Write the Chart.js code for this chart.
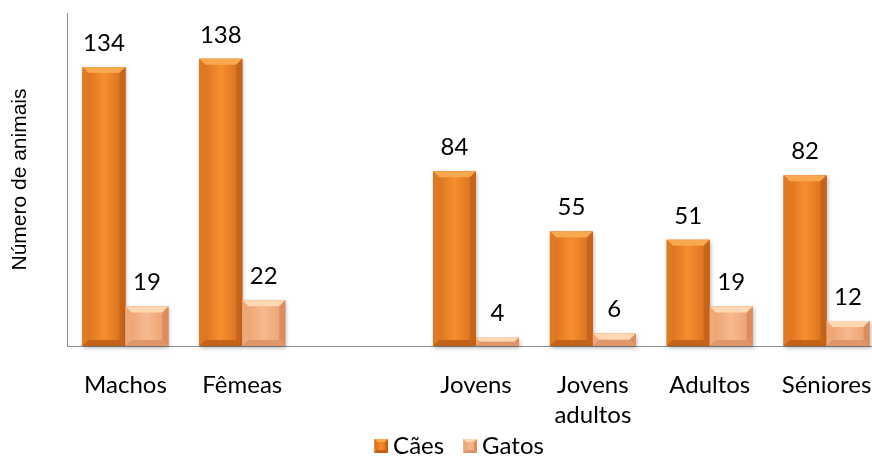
<!DOCTYPE html>
<html lang="pt">
<head>
<meta charset="utf-8">
<title>Número de animais por sexo e idade</title>
<script src="https://cdn.jsdelivr.net/npm/chart.js@4/dist/chart.umd.min.js"></script>
<style>
  html, body { margin: 0; padding: 0; background: #fff; overflow: hidden; width: 872px; height: 457px; }
  canvas { display: block; }
</style>
</head>
<body>
<canvas id="grafico" width="919" height="457"></canvas>
<script>
// Categorias (a posição vazia separa o sexo das faixas etárias)
const categorias = ['Machos', 'Fêmeas', '', 'Jovens', ['Jovens', 'adultos'], 'Adultos', 'Séniores'];
const caes  = [134, 138, null, 84, 55, 51, 82];
const gatos = [19, 22, null, 4, 6, 19, 12];
const nomesSeries = ['Cães', 'Gatos'];

// Paleta de cada série: face, arestas e chanfros
const paletas = [
  { base: '#EE8226', centro: '#F78E2E', borda: '#D26C1C', topo: '#F9A850', baixo: '#C4621A', esq: '#E07A22', dir: '#C6641A' },
  { base: '#F2AA7C', centro: '#F7B98F', borda: '#EA9E6C', topo: '#FDD8B2', baixo: '#DE966A', esq: '#F0A879', dir: '#DA8E60' }
];

const fonteRotulo = { family: 'Lato, "Open Sans", sans-serif', size: 24 };

// Pinta um retângulo chanfrado com a paleta indicada
function pintarChanfrado(ctx, l, t, w, h, p, k) {
  const r = l + w, b = t + h;
  const g = ctx.createLinearGradient(l, 0, r, 0);
  g.addColorStop(0, p.borda);
  g.addColorStop(0.5, p.centro);
  g.addColorStop(1, p.borda);
  ctx.fillStyle = g;
  ctx.fillRect(l, t, w, h);
  ctx.shadowColor = 'transparent';
  const poly = (pts, cor) => {
    ctx.beginPath();
    ctx.moveTo(pts[0][0], pts[0][1]);
    for (let j = 1; j < pts.length; j++) ctx.lineTo(pts[j][0], pts[j][1]);
    ctx.closePath();
    ctx.fillStyle = cor;
    ctx.fill();
  };
  poly([[l, t], [r, t], [r - k, t + k], [l + k, t + k]], p.topo);
  poly([[l, t], [l + k, t + k], [l + k, b - k], [l, b]], p.esq);
  poly([[r, t], [r - k, t + k], [r - k, b - k], [r, b]], p.dir);
  poly([[l, b], [l + k, b - k], [r - k, b - k], [r, b]], p.baixo);
}

// Ícones da legenda: quadrado chanfrado encostado à direita, junto ao texto
const icones = paletas.map(p => {
  const c = document.createElement('canvas');
  c.width = 34; c.height = 14;
  pintarChanfrado(c.getContext('2d'), 20, 0, 14, 14, p, 3);
  return c;
});

// Desenha o efeito chanfrado sobre cada barra, a partir da geometria da própria barra
const chanfro = {
  id: 'chanfro',
  afterDatasetsDraw(chart) {
    const ctx = chart.ctx;
    chart.data.datasets.forEach((ds, di) => {
      const meta = chart.getDatasetMeta(di);
      meta.data.forEach((bar, i) => {
        if (ds.data[i] == null) return;
        const { x, y, base, width } = bar.getProps(['x', 'y', 'base', 'width'], true);
        const h = base - y;
        const k = Math.min(6, h / 2, width / 2);
        ctx.save();
        ctx.shadowColor = 'rgba(0,0,0,0.28)';
        ctx.shadowBlur = 4;
        ctx.shadowOffsetX = 1;
        ctx.shadowOffsetY = 2;
        pintarChanfrado(ctx, x - width / 2, y, width, h, paletas[di], k);
        ctx.restore();
      });
    });
  }
};

// Rótulos de valor por cima de cada barra
const rotulosValor = {
  id: 'rotulosValor',
  afterDatasetsDraw(chart) {
    const ctx = chart.ctx;
    ctx.save();
    ctx.font = `${fonteRotulo.size}px ${fonteRotulo.family}`;
    ctx.fillStyle = '#000';
    ctx.textAlign = 'center';
    ctx.textBaseline = 'middle';
    chart.data.datasets.forEach((ds, di) => {
      chart.getDatasetMeta(di).data.forEach((bar, i) => {
        const v = ds.data[i];
        if (v == null) return;
        ctx.fillText(String(v), bar.x, bar.y - 24);
      });
    });
    ctx.restore();
  }
};

new Chart(document.getElementById('grafico'), {
  type: 'bar',
  data: {
    labels: categorias,
    datasets: [
      { label: nomesSeries[0], data: caes,  backgroundColor: paletas[0].base, borderWidth: 0 },
      { label: nomesSeries[1], data: gatos, backgroundColor: paletas[1].base, borderWidth: 0 }
    ]
  },
  options: {
    responsive: false,
    animation: false,
    events: [],
    layout: { padding: { top: 13, bottom: -11, left: 0, right: 14 } },
    datasets: { bar: { categoryPercentage: 0.735, barPercentage: 1 } },
    scales: {
      x: {
        grid: { display: false },
        border: { display: true, color: '#8c8c8c', width: 1 },
        ticks: { color: '#000', font: { ...fonteRotulo, lineHeight: 1.25 }, padding: 16, maxRotation: 0, autoSkip: false },
        afterFit(s) { s.height = 82; }
      },
      y: {
        min: 0, max: 160,
        grid: { display: false },
        border: { display: true, color: '#8c8c8c', width: 1 },
        ticks: { display: false },
        title: {
          display: true,
          text: 'Número de animais',
          color: '#000',
          font: { family: '"Liberation Sans", Arial, sans-serif', size: 21 },
          padding: { top: 8, bottom: 0 }
        },
        afterFit(s) { s.width = 67; }
      },
      reserva: {
        type: 'linear', position: 'right', display: true,
        grid: { display: false }, border: { display: false }, ticks: { display: false },
        afterFit(s) { s.width = 20; }
      }
    },
    plugins: {
      legend: {
        position: 'bottom',
        labels: {
          color: '#000', font: fonteRotulo, usePointStyle: true, pointStyleWidth: 20, padding: 6,
          generateLabels(chart) {
            return Chart.defaults.plugins.legend.labels.generateLabels(chart)
              .map((item, i) => ({ ...item, pointStyle: icones[i] }));
          }
        }
      },
      tooltip: { enabled: false }
    }
  },
  plugins: [chanfro, rotulosValor]
});
</script>
</body>
</html>
